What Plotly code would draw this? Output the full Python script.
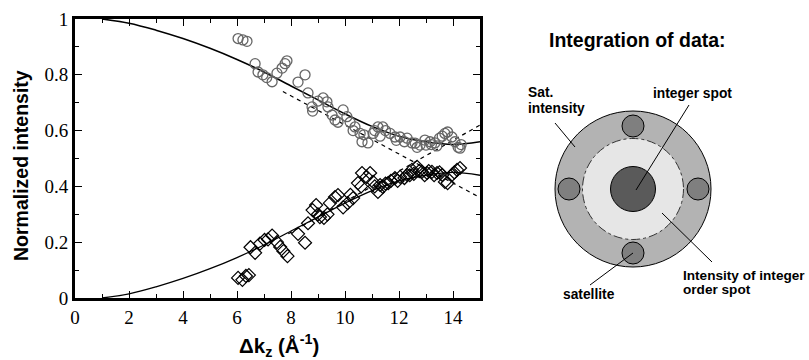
import plotly.graph_objects as go

# ---------------- data ----------------
circ_x = [6.04, 6.22, 6.37, 6.67, 6.78, 6.96, 7.10, 7.30, 7.48, 7.67, 7.78, 7.85,
          8.26, 8.52, 8.63, 8.78, 8.80, 9.00, 9.19, 9.33, 9.37, 9.52, 9.63, 9.74,
          9.93, 10.07, 10.19, 10.30, 10.37, 10.56, 10.63, 10.70, 10.85, 11.04, 11.10,
          11.22, 11.30, 11.40, 11.50, 11.67, 11.85, 11.90, 12.04, 12.20, 12.30, 12.48,
          12.60, 12.67, 12.78, 12.96, 13.00, 13.15, 13.20, 13.33, 13.40, 13.50, 13.60,
          13.70, 13.80, 13.96, 14.07, 14.19, 14.26, 14.30]
circ_y = [0.930, 0.925, 0.920, 0.840, 0.810, 0.800, 0.790, 0.775, 0.806, 0.824, 0.840, 0.850,
          0.774, 0.800, 0.735, 0.685, 0.670, 0.706, 0.717, 0.703, 0.685, 0.656, 0.638, 0.630,
          0.674, 0.650, 0.630, 0.600, 0.613, 0.590, 0.560, 0.585, 0.556, 0.590, 0.600,
          0.613, 0.580, 0.613, 0.600, 0.590, 0.577, 0.565, 0.577, 0.560, 0.573, 0.556,
          0.555, 0.540, 0.548, 0.566, 0.548, 0.560, 0.550, 0.556, 0.545, 0.573, 0.580,
          0.590, 0.595, 0.577, 0.560, 0.540, 0.537, 0.550]

dia_x = [6.04, 6.20, 6.33, 6.44, 6.50, 6.67, 6.85, 7.02, 7.15, 7.30, 7.48, 7.60,
         7.72, 7.87, 8.26, 8.52, 8.63, 8.80, 8.93, 9.00, 9.07, 9.22, 9.35, 9.44, 9.63,
         9.74, 9.93, 10.10, 10.20, 10.30, 10.48, 10.60, 10.63, 10.80, 10.93, 11.04,
         11.10, 11.22, 11.30, 11.40, 11.50, 11.60, 11.70, 11.85, 11.95, 12.04, 12.20,
         12.30, 12.40, 12.48, 12.55, 12.67, 12.75, 12.85, 12.95, 13.04, 13.10, 13.22,
         13.30, 13.41, 13.50, 13.60, 13.70, 13.80, 13.96, 14.05, 14.15, 14.26]
dia_y = [0.072, 0.065, 0.079, 0.082, 0.182, 0.162, 0.195, 0.208, 0.210, 0.224, 0.200, 0.183,
         0.168, 0.150, 0.230, 0.198, 0.268, 0.315, 0.333, 0.300, 0.290, 0.287, 0.300, 0.340, 0.362,
         0.369, 0.325, 0.340, 0.370, 0.358, 0.412, 0.400, 0.448, 0.434, 0.448, 0.416,
         0.400, 0.380, 0.405, 0.398, 0.410, 0.412, 0.420, 0.430, 0.420, 0.434, 0.430,
         0.441, 0.440, 0.459, 0.445, 0.470, 0.455, 0.452, 0.440, 0.448, 0.455, 0.452,
         0.440, 0.448, 0.450, 0.441, 0.416, 0.412, 0.441, 0.450, 0.459, 0.466]

fit_x = [1, 2, 3, 4, 5, 6, 7, 8, 9, 10, 11, 12, 13, 14, 15]
fit_low = [0.0, 0.015, 0.04, 0.07, 0.105, 0.145, 0.19, 0.24, 0.29, 0.34, 0.385, 0.42, 0.44, 0.45, 0.44]
fit_high = [1.0, 0.985, 0.96, 0.93, 0.895, 0.855, 0.81, 0.76, 0.71, 0.66, 0.615, 0.58, 0.56, 0.55, 0.56]

dash_hi_x = [7.7, 15.0]
dash_hi_y = [0.74, 0.36]
dash_lo_x = [7.9, 15.0]
dash_lo_y = [0.23, 0.62]

x_ticks = [0, 2, 4, 6, 8, 10, 12, 14]
y_ticks = [0, 0.2, 0.4, 0.6, 0.8, 1.0]

W, H = 809, 360
SANS = "Liberation Sans, Arial, sans-serif"
SERIF = "Liberation Serif, Times New Roman, serif"

fig = go.Figure()

fig.add_trace(go.Scatter(x=fit_x, y=fit_high, mode="lines", line=dict(color="black", width=1.5, shape="spline"),
                         showlegend=False, hoverinfo="skip"))
fig.add_trace(go.Scatter(x=fit_x, y=fit_low, mode="lines", line=dict(color="black", width=1.3, shape="spline"),
                         showlegend=False, hoverinfo="skip"))
fig.add_trace(go.Scatter(x=dash_hi_x, y=dash_hi_y, mode="lines", line=dict(color="black", width=1.2, dash="4px,4px"),
                         showlegend=False, hoverinfo="skip"))
fig.add_trace(go.Scatter(x=dash_lo_x, y=dash_lo_y, mode="lines", line=dict(color="black", width=1.2, dash="4px,4px"),
                         showlegend=False, hoverinfo="skip"))
fig.add_trace(go.Scatter(x=circ_x, y=circ_y, mode="markers",
                         marker=dict(symbol="circle-open", size=10, color="#666666", line=dict(width=1.3)),
                         showlegend=False, cliponaxis=False))
fig.add_trace(go.Scatter(x=dia_x, y=dia_y, mode="markers",
                         marker=dict(symbol="diamond-open", size=10, color="black", line=dict(width=1.2)),
                         showlegend=False, cliponaxis=False))

# overlay pixel-coordinate axes for the schematic and labels
fig.add_trace(go.Scatter(x=[], y=[], xaxis="x2", yaxis="y2", showlegend=False))

axis_common = dict(showline=True, linecolor="black", linewidth=3, mirror="allticks",
                   ticks="inside", ticklen=7, tickwidth=1.2, tickcolor="black",
                   showgrid=False, zeroline=False, automargin=False,
                   tickfont=dict(family=SERIF, size=19, color="black"))

fig.update_layout(
    template="none",
    width=W, height=H,
    margin=dict(l=0, r=0, t=0, b=0, pad=0, autoexpand=False),
    paper_bgcolor="white", plot_bgcolor="rgba(0,0,0,0)",
    showlegend=False,
    xaxis=dict(domain=[75 / W, 480 / W], range=[0, 15], tickvals=x_ticks, anchor="y",
               minor=dict(dtick=1, tick0=0, ticks="inside", ticklen=4, tickcolor="black"),
               **axis_common),
    yaxis=dict(domain=[(H - 298) / H, (H - 19) / H], range=[0, 1], tickvals=y_ticks, anchor="x",
               minor=dict(dtick=0.1, tick0=0, ticks="inside", ticklen=4, tickcolor="black"),
               **axis_common),
    xaxis2=dict(domain=[0, 1], range=[0, W], visible=False, anchor="y2", fixedrange=True, automargin=False),
    yaxis2=dict(domain=[0, 1], range=[H, 0], visible=False, anchor="x2", fixedrange=True, automargin=False),
)

shapes = []
def circ(cx, cy, r, fill, lw=1, dash="solid", color="black"):
    shapes.append(dict(type="circle", xref="x2", yref="y2", x0=cx - r, x1=cx + r, y0=cy - r, y1=cy + r,
                       fillcolor=fill, line=dict(color=color, width=lw, dash=dash), layer="above"))

def seg(x0, y0, x1, y1):
    shapes.append(dict(type="line", xref="x2", yref="y2", x0=x0, y0=y0, x1=x1, y1=y1,
                       line=dict(color="black", width=1), layer="above"))

cx, cy = 633, 189
circ(cx, cy, 78, "#b3b3b3")
circ(cx, cy, 50.5, "#e6e6e6", lw=1, dash="dashdot", color="#333333")
circ(cx, cy, 22.5, "#5a5a5a")
for sx, sy in [(cx, 126), (569, cy), (698, cy), (cx, 253)]:
    circ(sx, sy, 11, "#7f7f7f")

seg(555, 123, 575, 147)
seg(689, 105, 636, 190)
seg(662, 213, 712, 262)
seg(590, 285, 633, 253)

fig.update_layout(shapes=shapes)

annotations = []
def label(x, y, text, size=13.8, xanchor="left", angle=0):
    annotations.append(dict(xref="x2", yref="y2", x=x, y=y, text=text, showarrow=False,
                            xanchor=xanchor, yanchor="middle", textangle=angle,
                            font=dict(family=SANS, size=size, color="black")))

label(637, 40, "<b>Integration of data:</b>", size=19.5, xanchor="center")
label(526, 92, "<b>Sat.</b>")
label(526, 108, "<b>intensity</b>")
label(651, 93, "<b>integer spot</b>")
label(681, 275, "<b>Intensity of integer</b>", size=13.6)
label(681, 289.5, "<b>order spot</b>", size=13.6)
label(561, 294, "<b>satellite</b>")

label(21, 166, "<b>Normalized intensity</b>", size=19.5, xanchor="center", angle=-90)
label(279, 345, "<b>Δk<sub>z</sub> (Å<sup>-1</sup>)</b>", size=20.5, xanchor="center")

fig.update_layout(annotations=annotations)

fig.write_html("out.html", config={"displayModeBar": False},
               post_script="document.body.style.margin='0';document.body.style.overflow='hidden';")
